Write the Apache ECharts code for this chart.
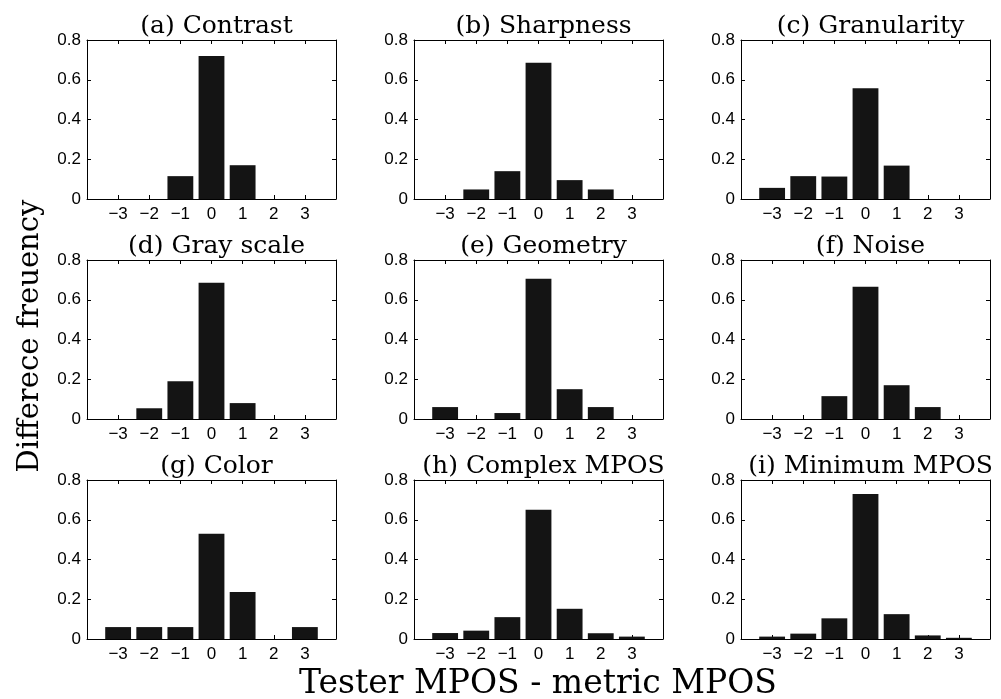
<html>
<head>
<meta charset="utf-8">
<title>Difference frequency</title>
<script src="https://cdn.jsdelivr.net/npm/echarts@6/dist/echarts.min.js"></script>
<style>
  body { margin: 0; background: #fff; }
</style>
</head>
<body>
	<div id="main" style="width: 1001px; height: 699px;"></div>
	<script type="text/javascript">
		// tester MPOS - metric MPOS
		var diffs = [-3, -2, -1, 0, 1, 2, 3];
		var titles = ['(a) Contrast', '(b) Sharpness', '(c) Granularity',
		              '(d) Gray scale', '(e) Geometry', '(f) Noise',
		              '(g) Color', '(h) Complex MPOS', '(i) Minimum MPOS'];
		var contrast    = [0, 0, 0.115, 0.72, 0.17, 0, 0];
		var sharpness   = [0, 0.048, 0.14, 0.685, 0.095, 0.048, 0];
		var granularity = [0.056, 0.115, 0.113, 0.557, 0.168, 0, 0];
		var grayScale   = [0, 0.054, 0.19, 0.686, 0.08, 0, 0];
		var geometry    = [0.06, 0, 0.03, 0.706, 0.15, 0.06, 0];
		var noise       = [0, 0, 0.115, 0.666, 0.17, 0.06, 0];
		var colorDiff   = [0.06, 0.06, 0.06, 0.53, 0.236, 0, 0.06];
		var complexMpos = [0.03, 0.042, 0.11, 0.65, 0.152, 0.029, 0.012];
		var minimumMpos = [0.012, 0.027, 0.104, 0.73, 0.125, 0.018, 0.006];

		var panels = [contrast, sharpness, granularity, grayScale, geometry, noise, colorDiff, complexMpos, minimumMpos];

		var colLeft = [87, 414, 741];
		var rowTop = [40, 260, 480];
		var plotW = 249, plotH = 159;

		var grids = [], xAxes = [], yAxes = [], series = [], titleList = [];

		function minusLabel(v) {
			if (v < -3 || v > 3) return '';
			return v < 0 ? '\u2212' + Math.abs(v) : String(v);
		}
		function yLabel(v) {
			return String(Math.round(v * 10) / 10);
		}
		// MATLAB style box: ticks inside on all four sides
		function axisCfg(pos, showLabel, kind) {
			var a = {
				type: 'value', position: pos,
				axisLine: { show: true, onZero: false, lineStyle: { color: '#000', width: 1 } },
				axisTick: { show: true, inside: true, length: 4, lineStyle: { color: '#000', width: 1 } },
				splitLine: { show: false },
				axisLabel: { show: false }
			};
			if (kind === 'x') { a.min = -4; a.max = 4; a.interval = 1; }
			else { a.min = 0; a.max = 0.8; a.interval = 0.2; }
			if (showLabel) {
				a.axisLabel = {
					show: true, color: '#000', fontSize: 17, fontFamily: 'Liberation Sans',
					margin: kind === 'x' ? 7 : 6,
					formatter: kind === 'x' ? minusLabel : yLabel
				};
			}
			return a;
		}

		for (var i = 0; i < panels.length; i++) {
			var gx = colLeft[i % 3], gy = rowTop[Math.floor(i / 3)];
			grids.push({ left: gx, top: gy, width: plotW, height: plotH });

			var xb = axisCfg('bottom', true, 'x'); xb.gridIndex = i;
			var xt = axisCfg('top', false, 'x'); xt.gridIndex = i;
			var yl = axisCfg('left', true, 'y'); yl.gridIndex = i;
			var yr = axisCfg('right', false, 'y'); yr.gridIndex = i;
			xAxes.push(xb, xt);
			yAxes.push(yl, yr);

			var data = [];
			for (var k = 0; k < diffs.length; k++) {
				data.push([diffs[k], panels[i][k]]);
			}
			series.push({
				type: 'bar', xAxisIndex: 2 * i, yAxisIndex: 2 * i,
				data: data, barWidth: '83%',
				itemStyle: { color: '#141414' },
				silent: true
			});
			titleList.push({
				text: titles[i], left: gx + plotW / 2, top: gy - 31, textAlign: 'center',
				textStyle: { fontFamily: 'DejaVu Serif', fontSize: 25, fontWeight: 'normal', color: '#000' }
			});
		}

		var myChart = echarts.init(document.getElementById('main'));
		myChart.setOption({
			animation: false,
			backgroundColor: '#fff',
			title: titleList,
			grid: grids,
			xAxis: xAxes,
			yAxis: yAxes,
			series: series,
			graphic: [
				{
					type: 'text', x: 30, y: 336, rotation: Math.PI / 2,
					style: { text: 'Differece freuency', font: '29px "DejaVu Serif"', fill: '#000', align: 'center', verticalAlign: 'middle' }
				},
				{
					type: 'text', x: 538, y: 684,
					style: { text: 'Tester MPOS - metric MPOS', font: '33px "DejaVu Serif"', fill: '#000', align: 'center', verticalAlign: 'middle' }
				}
			]
		});
	</script>
</body>
</html>
